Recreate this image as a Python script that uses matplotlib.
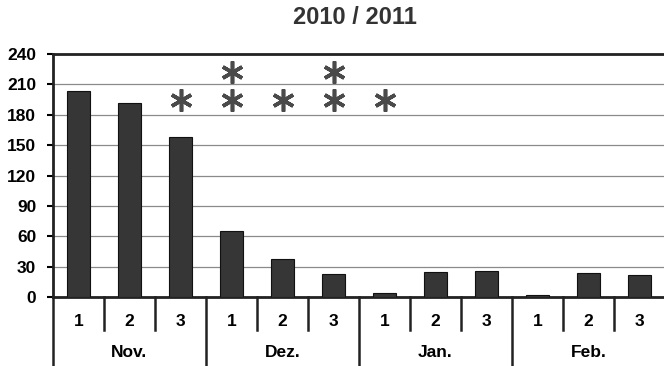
import matplotlib
matplotlib.use("Agg")
import matplotlib.pyplot as plt
import matplotlib.transforms as mtransforms

plt.rcParams['font.family'] = ['Liberation Sans', 'DejaVu Sans']

title = "2010 / 2011"
months = ["Nov.", "Dez.", "Jan.", "Feb."]
decades = ["1", "2", "3"]
values = [203, 192, 158, 65, 38, 23, 4, 25, 26, 2, 24, 22]
stars = [0, 0, 1, 2, 1, 2, 1, 0, 0, 0, 0, 0]
yticks = [0, 30, 60, 90, 120, 150, 180, 210, 240]

fig = plt.figure(figsize=(6.64, 3.66), dpi=100)
ax = fig.add_axes([53/664, 1 - 297/366, 612/664, 243/366])

n = len(values)
x = list(range(n))
ax.bar(x, values, width=0.45, color="#363636", edgecolor="#111111", linewidth=0.8, zorder=3)

# asterisks
for i, k in enumerate(stars):
    for j in range(k):
        ax.plot(i, 195 + 27.5 * j, marker=(6, 2, 0), markersize=16, mew=2.6,
                color="#4a4a4a", zorder=4, clip_on=False)

ax.set_xlim(-0.5, n - 0.5)
ax.set_ylim(0, 240)
ax.set_yticks(yticks)
ax.set_yticklabels([str(v) for v in yticks], fontsize=12.5, fontweight='bold')
ax.tick_params(axis='y', length=4, width=1.5, pad=8)
ax.set_xticks([])
ax.yaxis.grid(True, color="#8a8a8a", linewidth=0.9, zorder=0)
ax.set_axisbelow(True)

for s in ["left", "top", "bottom"]:
    ax.spines[s].set_linewidth(2.0)
    ax.spines[s].set_color("#222222")
ax.spines["right"].set_visible(False)

trans = mtransforms.blended_transform_factory(ax.transData, ax.transAxes)
# category separators
for b in range(n + 1):
    xb = b - 0.5
    if b % 3 == 0:
        ax.plot([xb, xb], [0, -0.30], transform=trans, color="#222222", lw=1.8, clip_on=False)
    else:
        ax.plot([xb, xb], [0, -0.137], transform=trans, color="#222222", lw=1.8, clip_on=False)
for i in range(n):
    ax.text(i, -0.099, decades[i % 3], transform=trans, ha='center', va='center',
            fontsize=12.5, fontweight='bold')
for m, name in enumerate(months):
    ax.text(3 * m + 1, -0.23, name, transform=trans, ha='center', va='center',
            fontsize=12.5, fontweight='bold')

fig.text(355/664, 1 - 18/366, title, ha='center', va='center', fontsize=17, fontweight='bold',
         color="#333333")

fig.savefig("out.png", dpi=100)
